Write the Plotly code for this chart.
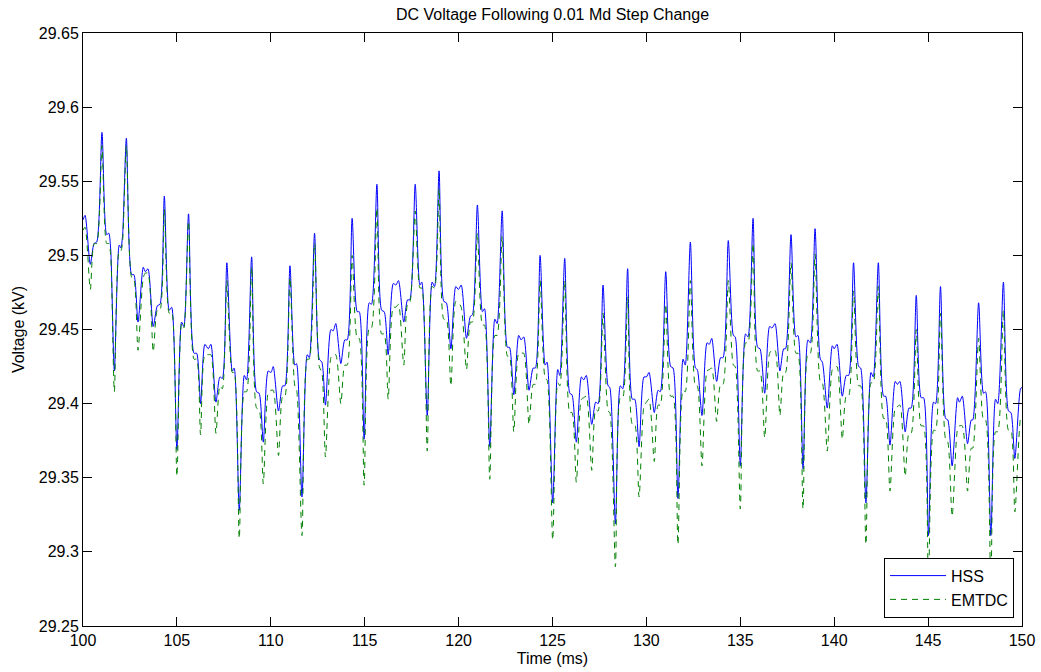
import plotly.graph_objects as go

# Time samples (ms) and DC voltage (kV) for the two simulations
time_ms = [
    100.00, 100.11, 100.39, 100.59, 100.73, 101.01, 101.26, 101.37, 101.47, 101.67,
    101.93, 102.02, 102.11, 102.31, 102.59, 102.71, 102.93, 103.21, 103.32, 103.46,
    103.74, 103.96, 104.10, 104.33, 104.59, 104.72, 105.00, 105.25, 105.37, 105.62,
    105.91, 106.05, 106.26, 106.49, 106.67, 106.81, 107.08, 107.29, 107.42, 107.66,
    107.95, 108.05, 108.32, 108.59, 108.71, 108.98, 109.24, 109.38, 109.60, 109.86,
    110.01, 110.13, 110.41, 110.63, 110.75, 111.02, 111.28, 111.37, 111.66, 111.94,
    112.05, 112.33, 112.58, 112.72, 112.91, 113.20, 113.32, 113.46, 113.73, 113.94,
    114.07, 114.33, 114.60, 114.71, 114.97, 115.24, 115.36, 115.65, 115.90, 116.04,
    116.25, 116.52, 116.66, 116.80, 117.08, 117.28, 117.40, 117.69, 117.94, 118.04,
    118.33, 118.59, 118.72, 118.96, 119.21, 119.35, 119.59, 119.85, 119.99, 120.14,
    120.42, 120.63, 120.74, 121.00, 121.27, 121.38, 121.66, 121.93, 122.05, 122.32,
    122.60, 122.71, 122.94, 123.20, 123.33, 123.47, 123.75, 123.97, 124.09, 124.34,
    124.61, 124.71, 125.01, 125.28, 125.39, 125.65, 125.92, 126.04, 126.27, 126.54,
    126.66, 126.80, 127.09, 127.30, 127.43, 127.69, 127.96, 128.05, 128.35, 128.61,
    128.74, 129.00, 129.25, 129.38, 129.61, 129.87, 130.00, 130.14, 130.42, 130.62,
    130.74, 131.03, 131.29, 131.42, 131.68, 131.95, 132.07, 132.34, 132.61, 132.71,
    132.96, 133.23, 133.35, 133.48, 133.74, 133.95, 134.08, 134.36, 134.63, 134.73,
    135.00, 135.28, 135.41, 135.68, 135.92, 136.05, 136.30, 136.56, 136.69, 136.85,
    137.11, 137.31, 137.41, 137.70, 137.96, 138.07, 138.34, 138.60, 138.73, 138.98,
    139.26, 139.37, 139.63, 139.90, 140.00, 140.15, 140.43, 140.64, 140.77, 141.03,
    141.30, 141.41, 141.69, 141.96, 142.08, 142.35, 142.63, 142.74, 142.97, 143.25,
    143.37, 143.50, 143.78, 143.98, 144.10, 144.37, 144.63, 144.76, 145.02, 145.29,
    145.40, 145.66, 145.93, 146.05, 146.28, 146.57, 146.67, 146.82, 147.10, 147.30,
    147.38, 147.69, 147.95, 148.06, 148.34, 148.59, 148.71, 149.01, 149.28, 149.41,
    149.62, 149.92, 150.00,
]

hss_kv = [
    29.524, 29.527, 29.494, 29.508, 29.509, 29.583, 29.514, 29.515, 29.505, 29.422,
    29.507, 29.505, 29.514, 29.579, 29.487, 29.487, 29.455, 29.492, 29.489, 29.491,
    29.452, 29.466, 29.467, 29.540, 29.463, 29.465, 29.369, 29.455, 29.452, 29.528,
    29.434, 29.434, 29.400, 29.440, 29.437, 29.440, 29.401, 29.418, 29.417, 29.495,
    29.422, 29.424, 29.328, 29.419, 29.416, 29.499, 29.408, 29.407, 29.374, 29.422,
    29.421, 29.425, 29.395, 29.412, 29.412, 29.493, 29.426, 29.427, 29.337, 29.433,
    29.431, 29.515, 29.430, 29.428, 29.399, 29.450, 29.449, 29.454, 29.427, 29.443,
    29.443, 29.525, 29.462, 29.462, 29.376, 29.468, 29.467, 29.548, 29.463, 29.462,
    29.433, 29.481, 29.480, 29.483, 29.455, 29.470, 29.470, 29.548, 29.480, 29.482,
    29.392, 29.482, 29.479, 29.557, 29.469, 29.468, 29.437, 29.479, 29.477, 29.480,
    29.444, 29.459, 29.460, 29.534, 29.462, 29.464, 29.371, 29.457, 29.454, 29.530,
    29.438, 29.438, 29.406, 29.446, 29.443, 29.445, 29.409, 29.424, 29.424, 29.500,
    29.426, 29.428, 29.333, 29.423, 29.419, 29.498, 29.407, 29.406, 29.374, 29.418,
    29.416, 29.419, 29.386, 29.401, 29.400, 29.480, 29.412, 29.411, 29.319, 29.412,
    29.410, 29.491, 29.403, 29.403, 29.371, 29.418, 29.418, 29.421, 29.394, 29.409,
    29.408, 29.489, 29.425, 29.424, 29.336, 29.430, 29.426, 29.509, 29.424, 29.423,
    29.392, 29.441, 29.440, 29.444, 29.415, 29.431, 29.431, 29.510, 29.446, 29.445,
    29.358, 29.447, 29.445, 29.525, 29.438, 29.437, 29.407, 29.452, 29.451, 29.454,
    29.422, 29.437, 29.437, 29.514, 29.445, 29.446, 29.356, 29.443, 29.441, 29.518,
    29.430, 29.428, 29.397, 29.439, 29.437, 29.440, 29.405, 29.419, 29.419, 29.495,
    29.425, 29.424, 29.333, 29.421, 29.418, 29.495, 29.405, 29.405, 29.372, 29.415,
    29.413, 29.415, 29.381, 29.397, 29.397, 29.473, 29.404, 29.404, 29.311, 29.401,
    29.400, 29.479, 29.390, 29.389, 29.358, 29.404, 29.401, 29.405, 29.373, 29.389,
    29.389, 29.468, 29.407, 29.408, 29.311, 29.403, 29.400, 29.482, 29.395, 29.394,
    29.363, 29.410, 29.411,
]

emtdc_kv = [
    29.517, 29.519, 29.477, 29.508, 29.508, 29.574, 29.508, 29.508, 29.501, 29.408,
    29.503, 29.503, 29.510, 29.574, 29.485, 29.484, 29.436, 29.485, 29.488, 29.488,
    29.435, 29.463, 29.463, 29.531, 29.461, 29.462, 29.351, 29.454, 29.451, 29.523,
    29.430, 29.430, 29.379, 29.433, 29.433, 29.433, 29.380, 29.412, 29.410, 29.483,
    29.421, 29.421, 29.309, 29.408, 29.408, 29.492, 29.397, 29.396, 29.346, 29.407,
    29.409, 29.409, 29.365, 29.405, 29.405, 29.485, 29.412, 29.410, 29.311, 29.430,
    29.430, 29.508, 29.425, 29.421, 29.364, 29.431, 29.433, 29.433, 29.400, 29.426,
    29.426, 29.500, 29.444, 29.444, 29.345, 29.451, 29.451, 29.532, 29.447, 29.447,
    29.403, 29.465, 29.465, 29.467, 29.426, 29.467, 29.468, 29.530, 29.478, 29.478,
    29.368, 29.479, 29.478, 29.545, 29.457, 29.457, 29.412, 29.469, 29.468, 29.465,
    29.423, 29.455, 29.455, 29.515, 29.453, 29.453, 29.349, 29.446, 29.446, 29.513,
    29.432, 29.432, 29.381, 29.434, 29.434, 29.434, 29.386, 29.413, 29.413, 29.483,
    29.417, 29.416, 29.308, 29.414, 29.412, 29.483, 29.394, 29.394, 29.347, 29.403,
    29.404, 29.405, 29.355, 29.396, 29.395, 29.461, 29.395, 29.394, 29.290, 29.404,
    29.404, 29.472, 29.386, 29.386, 29.337, 29.398, 29.401, 29.403, 29.361, 29.399,
    29.399, 29.467, 29.405, 29.405, 29.305, 29.409, 29.408, 29.483, 29.412, 29.412,
    29.358, 29.422, 29.423, 29.424, 29.388, 29.413, 29.413, 29.483, 29.426, 29.425,
    29.329, 29.441, 29.441, 29.508, 29.422, 29.422, 29.377, 29.434, 29.436, 29.436,
    29.392, 29.421, 29.421, 29.495, 29.434, 29.434, 29.329, 29.434, 29.434, 29.501,
    29.415, 29.414, 29.368, 29.423, 29.424, 29.425, 29.376, 29.405, 29.405, 29.476,
    29.412, 29.412, 29.305, 29.414, 29.414, 29.479, 29.390, 29.390, 29.341, 29.397,
    29.398, 29.399, 29.351, 29.380, 29.380, 29.450, 29.385, 29.385, 29.280, 29.382,
    29.382, 29.461, 29.376, 29.374, 29.324, 29.383, 29.385, 29.385, 29.341, 29.370,
    29.370, 29.444, 29.389, 29.389, 29.280, 29.381, 29.381, 29.463, 29.382, 29.382,
    29.327, 29.390, 29.392,
]

x_ticks = [100, 105, 110, 115, 120, 125, 130, 135, 140, 145, 150]
y_ticks = [29.25, 29.3, 29.35, 29.4, 29.45, 29.5, 29.55, 29.6, 29.65]
y_tick_text = ["29.25", "29.3", "29.35", "29.4", "29.45", "29.5", "29.55", "29.6", "29.65"]

FONT = "Liberation Sans, Arial, Helvetica, sans-serif"

fig = go.Figure()
fig.add_trace(go.Scatter(
    x=time_ms, y=hss_kv, name="HSS", mode="lines",
    line=dict(color="#0000FF", width=1, shape="spline", smoothing=0.7),
))
fig.add_trace(go.Scatter(
    x=time_ms, y=emtdc_kv, name="EMTDC", mode="lines",
    line=dict(color="#008000", width=1, dash="6px,5px", shape="spline", smoothing=0.7),
))

axis_common = dict(
    showline=True, linecolor="black", linewidth=1, mirror="ticks",
    ticks="inside", ticklen=9, tickwidth=1, tickcolor="black",
    showgrid=False, zeroline=False, automargin=False,
    tickfont=dict(family=FONT, size=16, color="black"),
)

fig.update_xaxes(
    range=[100, 150], tickvals=x_ticks,
    title=dict(text="Time (ms)", font=dict(family=FONT, size=16, color="black"), standoff=4),
    **axis_common,
)
fig.update_yaxes(
    range=[29.25, 29.65], tickvals=y_ticks, ticktext=y_tick_text,
    title=dict(text="Voltage (kV)", font=dict(family=FONT, size=16, color="black"), standoff=10),
    **axis_common,
)

fig.update_layout(
    width=1041, height=672,
    margin=dict(l=83, r=19, t=33, b=46, pad=0, autoexpand=False),
    paper_bgcolor="white", plot_bgcolor="white",
    title=dict(
        text="DC Voltage Following 0.01 Md Step Change",
        font=dict(family=FONT, size=16, color="black"),
        x=(83 + 1022) / 2 / 1041, xanchor="center",
        y=1 - 14 / 672, yanchor="middle", yref="container",
        automargin=False,
    ),
    legend=dict(
        x=0.9915, y=0.014, xanchor="right", yanchor="bottom",
        bgcolor="white", bordercolor="black", borderwidth=1,
        font=dict(family=FONT, size=16, color="black"),
        traceorder="normal", tracegroupgap=0, itemwidth=56,
    ),
    showlegend=True,
)

fig.write_html("out.html")
